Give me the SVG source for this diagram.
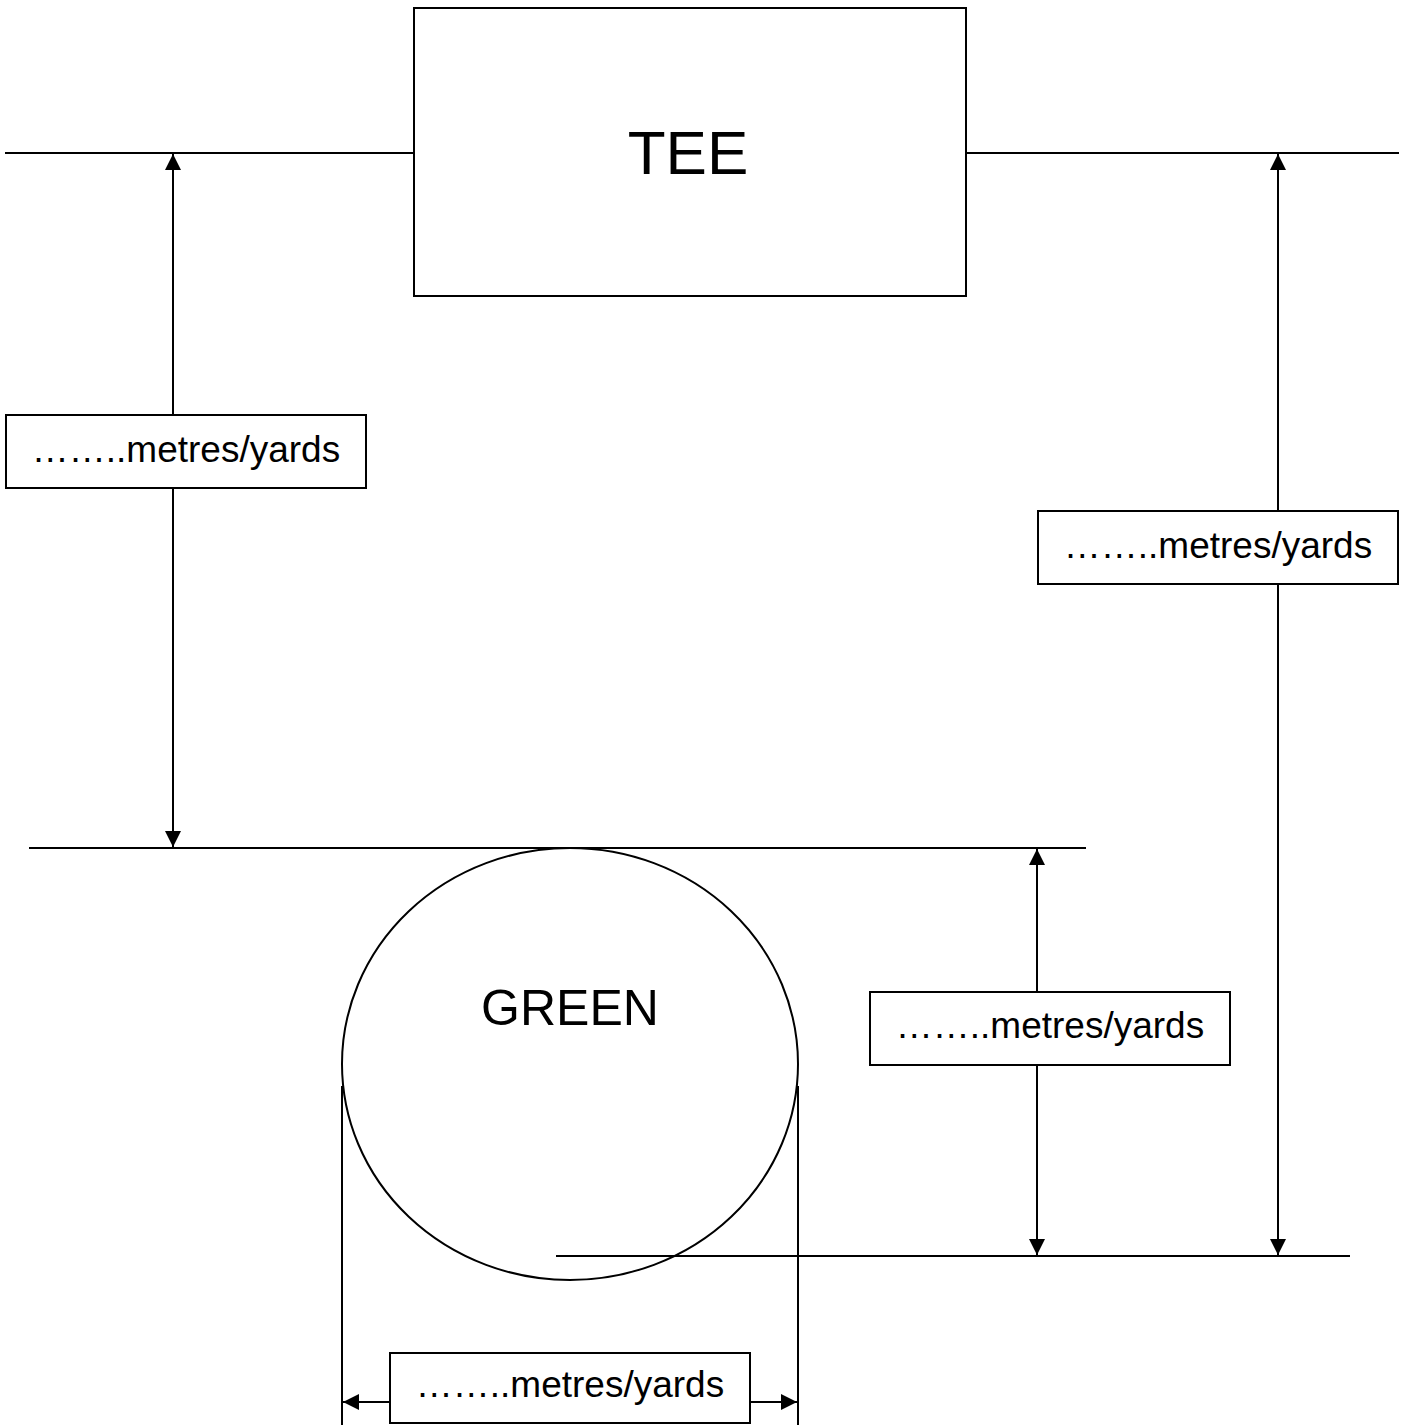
<svg xmlns="http://www.w3.org/2000/svg" width="1405" height="1425" viewBox="0 0 1405 1425">
<style>
.ln{stroke:#000;stroke-width:2;fill:none}
.bx{stroke:#000;stroke-width:2;fill:#fff}
.t{font-family:"Liberation Sans",Arial,sans-serif;fill:#000;text-anchor:middle}
.lb{font-size:37px}
</style>
<defs>
<marker id="ah" viewBox="0 0 16 16" refX="16" refY="8" markerWidth="16" markerHeight="16" markerUnits="userSpaceOnUse" orient="auto-start-reverse">
<path d="M0,0 L16,8 L0,16 Z" fill="#000"/>
</marker>
</defs>
<rect width="1405" height="1425" fill="#fff"/>
<g id="connectors">
<line class="ln" x1="5" y1="153" x2="414" y2="153"/>
<line class="ln" x1="966" y1="153" x2="1399" y2="153"/>
<line class="ln" x1="29" y1="848" x2="1086" y2="848"/>
<line class="ln" x1="556" y1="1256" x2="1350" y2="1256"/>
<line class="ln" x1="342" y1="1086" x2="342" y2="1425"/>
<line class="ln" x1="798" y1="1086" x2="798" y2="1425"/>
<line class="ln" x1="173" y1="154" x2="173" y2="847" marker-start="url(#ah)" marker-end="url(#ah)"/>
<line class="ln" x1="1278" y1="154" x2="1278" y2="1255" marker-start="url(#ah)" marker-end="url(#ah)"/>
<line class="ln" x1="1037" y1="849" x2="1037" y2="1255" marker-start="url(#ah)" marker-end="url(#ah)"/>
<line class="ln" x1="343" y1="1402" x2="797" y2="1402" marker-start="url(#ah)" marker-end="url(#ah)"/>
</g>
<g id="tee">
<rect class="bx" x="414" y="8" width="552" height="288"/>
<text class="t" x="688" y="174" font-size="62">TEE</text>
</g>
<g id="green">
<ellipse cx="570" cy="1064" rx="228" ry="216" class="ln"/>
<text class="t" x="570" y="1025" font-size="50">GREEN</text>
</g>
<g id="label-left">
<rect class="bx" x="6" y="415" width="360" height="73"/>
<text class="t lb" x="186" y="462">……..metres/yards</text>
</g>
<g id="label-right">
<rect class="bx" x="1038" y="511" width="360" height="73"/>
<text class="t lb" x="1218" y="558">……..metres/yards</text>
</g>
<g id="label-mid">
<rect class="bx" x="870" y="992" width="360" height="73"/>
<text class="t lb" x="1050" y="1038">……..metres/yards</text>
</g>
<g id="label-bottom">
<rect class="bx" x="390" y="1353" width="360" height="70"/>
<text class="t lb" x="570" y="1397">……..metres/yards</text>
</g>
</svg>
